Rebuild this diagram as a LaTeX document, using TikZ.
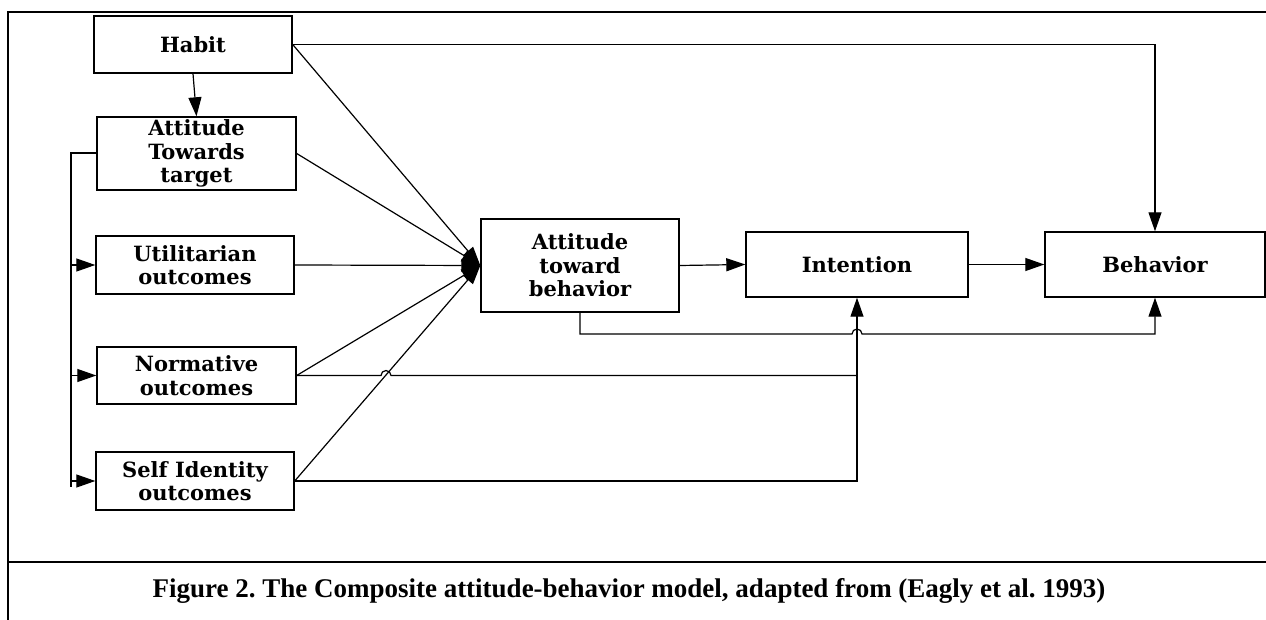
\documentclass[tikz,border=0pt]{standalone}
\usepackage{fontspec}
\setmainfont{Liberation Serif}
\newfontfamily\boxfont{DejaVu Serif}
\usepackage{tikz}
\usetikzlibrary{positioning,arrows.meta,calc}
\frenchspacing

\begin{document}
\begin{tikzpicture}[x=1pt,y=1pt,
  box/.style={rectangle,draw,line width=1.4pt,align=center,inner sep=0pt,
    font=\boxfont\bfseries\fontsize{21}{23.5}\selectfont},
  conn/.style={line width=1.2pt},
  tip/.style={-{Triangle[length=19pt,width=13pt]}}]
\useasboundingbox (0,0) rectangle (1266,-620);
% Frame and caption
\draw[line width=2pt] (8,-620) -- (8,-12) -- (1270,-12);
\draw[line width=2pt] (8,-562) -- (1270,-562);
\node[font=\bfseries\fontsize{27}{30}\selectfont] (cap) at (629,-591)
  {Figure 2. The Composite attitude-behavior model, adapted from (Eagly et al. 1993)};
% Left column
\node[box,minimum width=198pt,minimum height=57pt] (habit) at (193,-44.5) {Habit};
\node[box,minimum width=199pt,minimum height=73pt] (att) at (196.5,-153.5) {Attitude\\Towards\\target};
\node[box,minimum width=198pt,minimum height=58pt] (util) at (195,-265) {Utilitarian\\outcomes};
\node[box,minimum width=199pt,minimum height=57pt] (norm) at (196.5,-375.5) {Normative\\outcomes};
\node[box,minimum width=198pt,minimum height=58pt] (self) at (195,-481) {Self Identity\\outcomes};
% Right row
\node[box,minimum width=198pt,minimum height=93pt] (atb) at (580,-265.5) {Attitude\\toward\\behavior};
\node[box,minimum width=222pt,minimum height=65pt] (intent) at (857,-264.5) {Intention};
\node[box,minimum width=220pt,minimum height=65pt] (behav) at (1155,-264.5) {Behavior};
% Bus from attitude towards target
\draw[line width=2pt] (att.west) -- ++(-25,0) coordinate (b0) -- (b0 |- self.west) -- ++(0,-6);
\foreach \n in {util,norm,self}
  \draw[conn,tip] (b0 |- \n.west) -- (\n.west);
\draw[conn,tip] (habit.south) -- (att.north);
% Converging links
\foreach \n in {habit,att,util,norm,self}
  \draw[conn,tip] (\n.east) -- (atb.west);
\draw[conn,tip] (atb.east) -- (intent.west);
\draw[conn,tip] (intent.east) -- (behav.west);
\draw[conn,tip] (habit.east) -| (behav.north);
% Links with jumps
\coordinate (jmpA) at (852,-334);
\coordinate (jmpB) at (381,-375.5);
\draw[conn,tip] (atb.south) |- (jmpA) arc[start angle=180,end angle=0,radius=5pt] -| (behav.south);
\draw[conn] (norm.east) -- (jmpB) arc[start angle=180,end angle=0,radius=5pt] -- (intent.south |- norm.east);
\draw[conn,tip] (self.east) -| (intent.south);
\end{tikzpicture}
\end{document}
